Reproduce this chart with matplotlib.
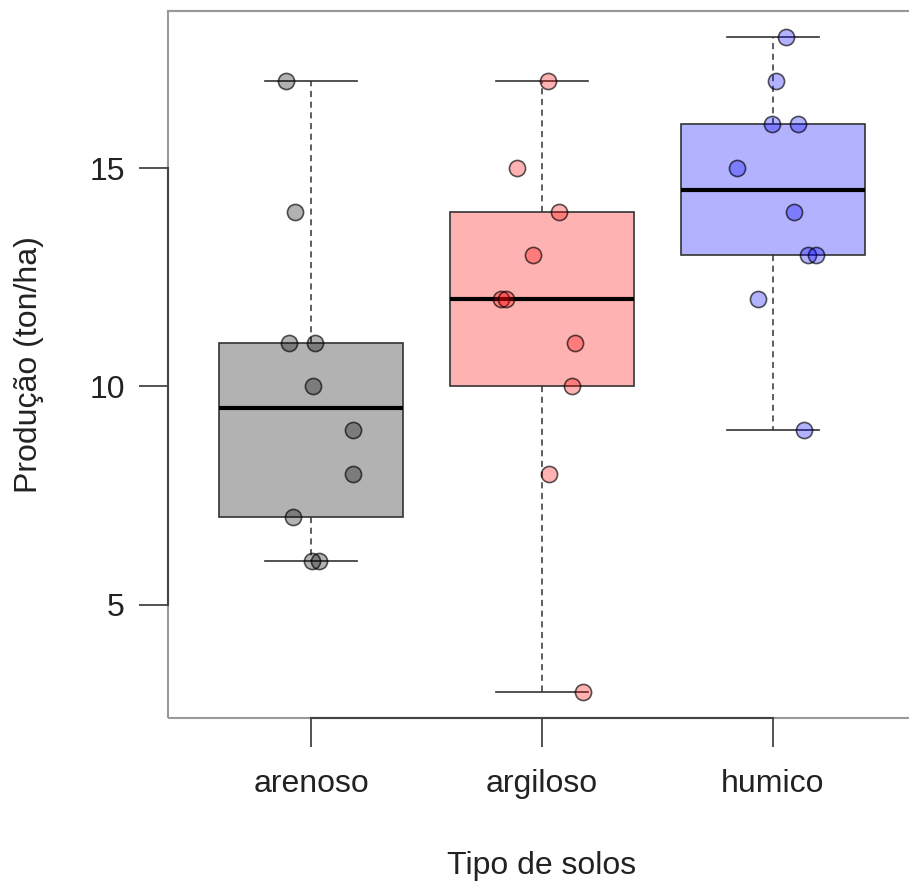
import numpy as np
import matplotlib
matplotlib.use('Agg')
import matplotlib.pyplot as plt

plt.rcParams['font.family'] = ['Liberation Sans', 'DejaVu Sans']

soil_types = ['arenoso', 'argiloso', 'humico']

arenoso = [17, 14, 11, 11, 10, 9, 8, 7, 6, 6]
argiloso = [17, 15, 14, 13, 12, 12, 11, 10, 8, 3]
humico = [18, 17, 16, 16, 15, 14, 13, 13, 12, 9]

# jitter offsets
jit_arenoso = [-0.11, -0.07, -0.095, 0.017, 0.01, 0.18, 0.18, -0.08, 0.004, 0.035]
jit_argiloso = [0.026, -0.11, 0.073, -0.039, -0.177, -0.155, 0.144, 0.13, 0.032, 0.177]
jit_humico = [0.058, 0.012, -0.003, 0.108, -0.156, 0.09, 0.152, 0.185, -0.063, 0.135]

colors = [(0, 0, 0, 0.3), (1, 0, 0, 0.3), (0, 0, 1, 0.3)]


def fivenum(x):
    x = np.sort(np.asarray(x, dtype=float))
    n = len(x)
    n4 = np.floor((n + 3) / 2) / 2
    d = np.array([1, n4, (n + 1) / 2, n + 1 - n4, n]) - 1
    return 0.5 * (x[np.floor(d).astype(int)] + x[np.ceil(d).astype(int)])


groups = [arenoso, argiloso, humico]
jitters = [jit_arenoso, jit_argiloso, jit_humico]

stats = []
for g in groups:
    lo, q1, med, q3, hi = fivenum(g)
    stats.append({'whislo': lo, 'q1': q1, 'med': med, 'q3': q3, 'whishi': hi, 'fliers': []})

fig = plt.figure(figsize=(9.09, 8.84), dpi=100)
ax = fig.add_axes([168 / 909, (884 - 718) / 884, (916 - 168) / 909, (718 - 11) / 884])

pos = [1, 2, 3]
bp = ax.bxp(stats, positions=pos, widths=0.8, capwidths=0.4, patch_artist=True,
            showfliers=False,
            boxprops=dict(edgecolor='#333333', linewidth=1.2),
            medianprops=dict(color='black', linewidth=3),
            whiskerprops=dict(color='#333333', linestyle=(0, (4, 3)), linewidth=1.1),
            capprops=dict(color='#333333', linewidth=1.2))
for patch, c in zip(bp['boxes'], colors):
    patch.set_facecolor(c)

for i, (g, j) in enumerate(zip(groups, jitters)):
    xs = np.array(j) + pos[i]
    ax.scatter(xs, g, s=135, facecolor=colors[i], edgecolor=(0, 0, 0, 0.65),
               linewidth=1.2, zorder=3)

ax.set_xlim(0.38, 3.62)
ax.set_ylim(2.4, 18.6)
ax.set_yticks([5, 10, 15])
ax.set_xticks(pos)
ax.set_xticklabels(soil_types)

for side in ['left', 'bottom', 'top', 'right']:
    ax.spines[side].set_color('#999999')
    ax.spines[side].set_linewidth(1.5)
ax.spines['left'].set_bounds(5, 15)
ax.spines['bottom'].set_bounds(1, 3)
ax.spines['left'].set_color('#444444')
ax.spines['bottom'].set_color('#444444')
# grey frame around the full plot region
frame = plt.Rectangle((0, 0), 1, 1, transform=ax.transAxes, fill=False,
                      edgecolor='#999999', linewidth=1.5, zorder=0.5, clip_on=False)
ax.add_patch(frame)

ax.tick_params(axis='both', length=21, width=1.3, color='#444444',
               labelsize=23, pad=10, labelcolor='#222222')
ax.tick_params(axis='x', pad=16)

ax.set_xlabel('Tipo de solos', fontsize=23, color='#222222', labelpad=37)
ax.set_ylabel('Produção (ton/ha)', fontsize=23, color='#222222', labelpad=33)

fig.savefig('out.png', dpi=100)
